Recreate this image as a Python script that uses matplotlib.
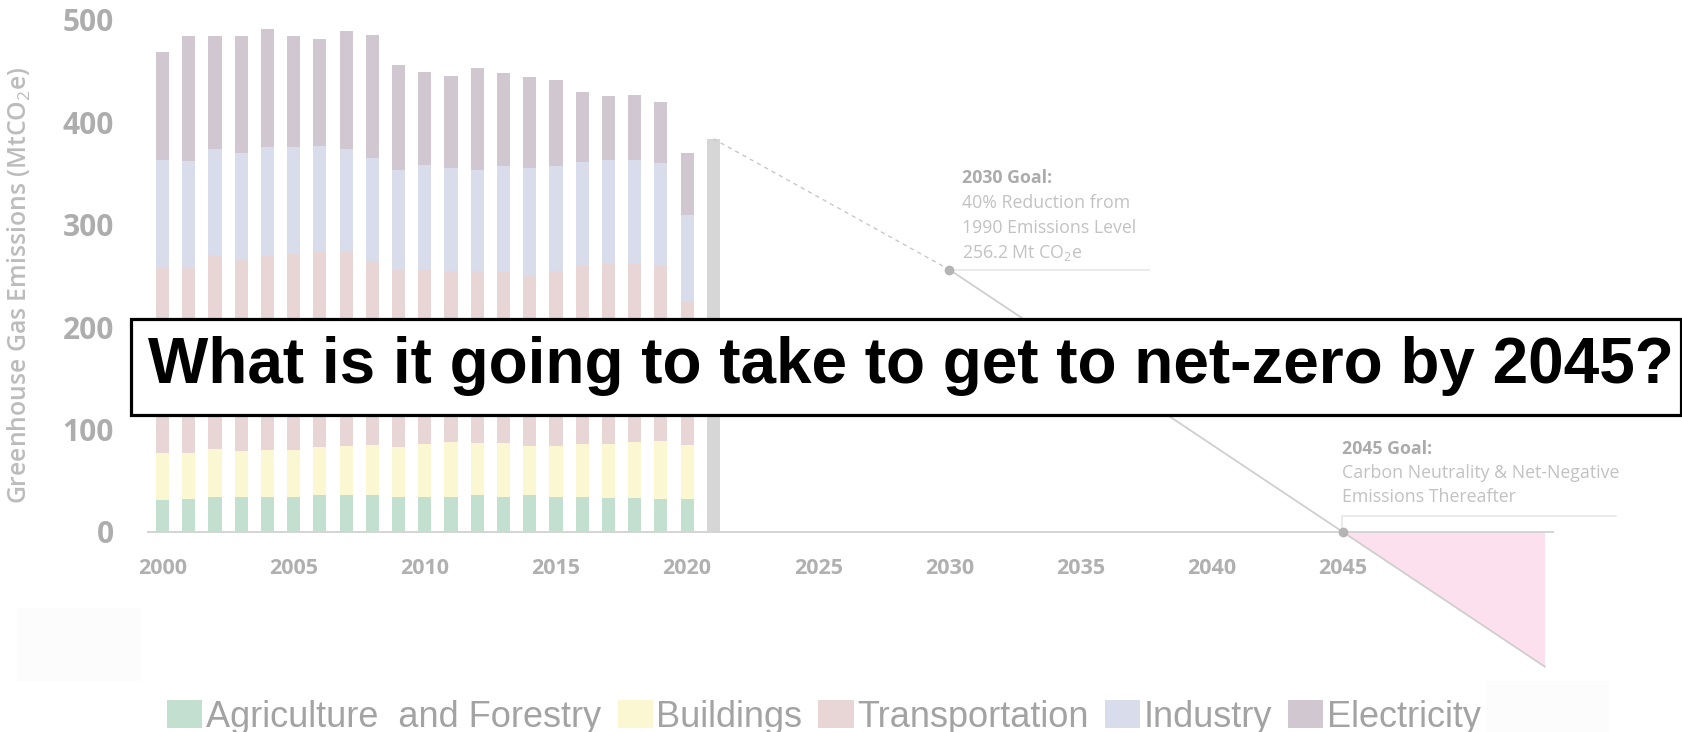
import matplotlib
matplotlib.use("Agg")
import matplotlib.pyplot as plt
from matplotlib.patches import Patch, Rectangle
import numpy as np

plt.rcParams['font.family'] = ['Open Sans', 'DejaVu Sans']
plt.rcParams['mathtext.fontset'] = 'custom'
plt.rcParams['mathtext.rm'] = 'Open Sans'

# emissions by sector, MtCO2e
years = list(range(2000, 2021))
agriculture = [30.8, 32.2, 33.9, 33.9, 33.9, 34.6, 35.7, 35.7, 35.7, 33.9, 34.6,
               34.6, 36.4, 34.6, 35.7, 33.9, 33.9, 32.9, 32.9, 32.2, 32.2]
buildings = [46.8, 44.7, 47.6, 45.5, 46.2, 45.5, 47.5, 48.2, 48.9, 49.3, 51.4,
             52.8, 50.7, 52.5, 48.2, 50.0, 52.5, 53.5, 54.5, 56.6, 52.4]
transportation = [181.1, 180.8, 188.8, 187.4, 189.5, 191.2, 190.6, 190.9, 179.7, 173.1, 170.3,
                  167.1, 167.4, 166.4, 167.1, 170.6, 174.1, 175.8, 174.1, 171.3, 140.2]
industry = [104.6, 104.2, 104.2, 103.8, 106.6, 104.9, 103.5, 99.7, 100.7, 97.5, 102.1,
            100.7, 99.3, 103.5, 104.2, 102.5, 101.0, 100.7, 101.4, 100.4, 85.0]
electricity = [105.9, 122.7, 109.4, 113.3, 115.4, 108.4, 104.5, 114.7, 120.3, 101.8, 90.9,
               90.3, 99.0, 91.3, 89.2, 84.3, 68.6, 63.0, 63.7, 59.1, 60.5]

sectors = ["Agriculture  and Forestry", "Buildings", "Transportation", "Industry", "Electricity"]
colors = ["#c2dfd0", "#fbf7d3", "#e8d5d6", "#d9dceb", "#d0c7d1"]

# 2021 estimate and the goal path
year_2021, total_2021 = 2021, 384.0
goal_years = [2030, 2045]
goal_values = [256.2, 0.0]
tail_year = 2052.7

fig = plt.figure(figsize=(16.82, 7.32), dpi=100)
ax = fig.add_axes([0.08803, 0.07738, 0.88187, 0.90230])

bottom = np.zeros(len(years))
for vals, c in zip([agriculture, buildings, transportation, industry, electricity], colors):
    ax.bar(years, vals, width=0.5, bottom=bottom, color=c, zorder=2)
    bottom += np.array(vals)

ax.bar([year_2021], [total_2021], width=0.5, color="#d6d6d6", zorder=2)

# dashed path to 2030, solid path to 2045 and beyond
ax.plot([year_2021, goal_years[0]], [total_2021, goal_values[0]], ls=(0, (3, 3)),
        color="#c8c8c8", lw=1.0, zorder=3)
slope = (goal_values[1] - goal_values[0]) / (goal_years[1] - goal_years[0])
tail_value = goal_values[1] + slope * (tail_year - goal_years[1])
ax.plot([goal_years[0], tail_year], [goal_values[0], tail_value], color="#cfcfcf", lw=1.3, zorder=3)
ax.fill([goal_years[1], tail_year, tail_year], [0, 0, tail_value], color="#fde0ee", lw=0, zorder=1)
ax.plot(goal_years, goal_values, "o", color="#b4b4b4", ms=6, zorder=4)

# annotation leaders
ax.plot([goal_years[0], 2037.6], [goal_values[0], goal_values[0]], color="#e8e8e8", lw=1.2, zorder=1)
ax.plot([2044.95, 2044.95, 2055.4], [0, 15.6, 15.6], color="#e6e6e6", lw=1.2, zorder=1)

note_size = 12.8
ax.text(2030.48, 345.7, "2030 Goal:", fontsize=note_size, fontweight="bold", color="#ababab", va="center")
ax.text(2030.48, 321.3, "40% Reduction from", fontsize=note_size, color="#c2c2c2", va="center")
ax.text(2030.48, 296.9, "1990 Emissions Level", fontsize=note_size, color="#c2c2c2", va="center")
ax.text(2030.48, 272.5, r"256.2 Mt CO$_2$e", fontsize=note_size, color="#c2c2c2", va="center")

ax.text(2044.95, 81, "2045 Goal:", fontsize=note_size, fontweight="bold", color="#ababab", va="center")
ax.text(2044.95, 57.6, "Carbon Neutrality & Net-Negative", fontsize=note_size, color="#c2c2c2", va="center")
ax.text(2044.95, 34.2, "Emissions Thereafter", fontsize=note_size, color="#c2c2c2", va="center")

ax.set_xlim(1999.45, 2056)
ax.set_ylim(-140, 505)
ax.set_xticks(range(2000, 2050, 5))
ax.set_yticks(range(0, 600, 100))

for s in ["top", "right", "left"]:
    ax.spines[s].set_visible(False)
ax.spines["bottom"].set_position(("data", 0))
ax.spines["bottom"].set_bounds(1999.45, 2053)
ax.spines["bottom"].set_color("#d4d4d4")
ax.spines["bottom"].set_linewidth(1.4)

ax.tick_params(axis="x", length=0, pad=18.5, labelsize=15.5, labelcolor="#b0b0b0")
ax.tick_params(axis="y", length=0, pad=24.5, labelsize=21.5, labelcolor="#adadad")
for lab in ax.get_xticklabels() + ax.get_yticklabels():
    lab.set_fontweight("bold")

ax.set_ylabel(r"Greenhouse Gas Emissions (MtCO$_2$e)", fontsize=17.8, color="#bcbcbc",
              fontweight="semibold")
ax.yaxis.set_label_coords(-0.0775, 0.591)

# faint blocks
fig.patches.append(Rectangle((17 / 1682, 51 / 732), 124 / 1682, 73 / 732,
                             transform=fig.transFigure, color="#fcfcfc", lw=0, zorder=0))
fig.patches.append(Rectangle((1486 / 1682, 0), 123 / 1682, 51 / 732,
                             transform=fig.transFigure, color="#fcfcfc", lw=0, zorder=0))

handles = [Patch(facecolor=c, edgecolor="none") for c in colors]
fig.legend(handles, sectors, loc="center", bbox_to_anchor=(0.49, 0.02), ncol=5, frameon=False,
           prop={"family": "Liberation Sans", "size": 26},
           labelcolor="#a3a3a3", handlelength=0.97, handleheight=0.8,
           handletextpad=0.1, columnspacing=0.45, borderaxespad=0)

# question box
fig.patches.append(Rectangle((131 / 1682, 317 / 732), 1550 / 1682, 96.4 / 732,
                             transform=fig.transFigure, facecolor="white", edgecolor="black",
                             lw=2.3, zorder=10))
fig.text(911 / 1682, 0.5, "What is it going to take to get to net-zero by 2045?",
         family="Liberation Sans", fontweight="bold",
         fontsize=46, color="black", ha="center", va="center", zorder=11)

fig.savefig("out.png", dpi=100)
